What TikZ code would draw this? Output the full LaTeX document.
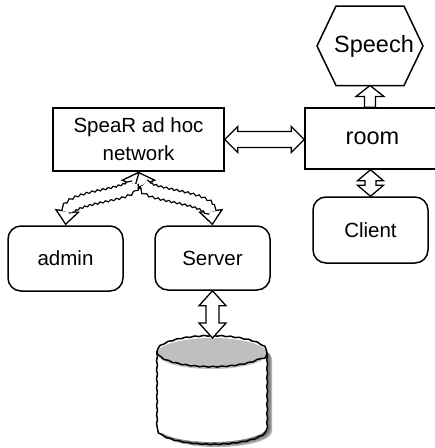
\documentclass[tikz,border=0pt]{standalone}
\usepackage{fontspec}
\setmainfont{Liberation Sans}
\usetikzlibrary{calc,arrows.meta,decorations.pathmorphing}

% vertical double-headed block arrow: #1 top tip, #2 bottom tip,
% #3 head half-width, #4 shaft half-width, #5 head length
\newcommand\vblockarrow[5]{%
  \draw[blockarrow] let \p1=(#1), \p2=(#2) in
    (\x1,\y1) -- (\x1+#3,\y1-#5) -- (\x1+#4,\y1-#5) -- (\x1+#4,\y2+#5)
    -- (\x1+#3,\y2+#5) -- (\x1,\y2) -- (\x1-#3,\y2+#5) -- (\x1-#4,\y2+#5)
    -- (\x1-#4,\y1-#5) -- (\x1-#3,\y1-#5) -- cycle;}
% single-headed upward block arrow: #1 tip, #2 tail
\newcommand\upblockarrow[5]{%
  \draw[blockarrow] let \p1=(#1), \p2=(#2) in
    (\x1,\y1) -- (\x1+#3,\y1-#5) -- (\x1+#4,\y1-#5) -- (\x1+#4,\y2)
    -- (\x1-#4,\y2) -- (\x1-#4,\y1-#5) -- (\x1-#3,\y1-#5) -- cycle;}
% horizontal double-headed block arrow: #1 left tip, #2 right tip
\newcommand\hblockarrow[5]{%
  \draw[blockarrow] let \p1=(#1), \p2=(#2) in
    (\x1,\y1) -- (\x1+#5,\y1+#3) -- (\x1+#5,\y1+#4) -- (\x2-#5,\y1+#4)
    -- (\x2-#5,\y1+#3) -- (\x2,\y1) -- (\x2-#5,\y1-#3) -- (\x2-#5,\y1-#4)
    -- (\x1+#5,\y1-#4) -- (\x1+#5,\y1-#3) -- cycle;}

\begin{document}
\begin{tikzpicture}[x=1pt,y=-1pt,
  every node/.style={font=\fontsize{20.5}{28}\selectfont},
  bigtext/.style={font=\fontsize{23.5}{28}\selectfont},
  box/.style={draw,line width=1.5pt,fill=white,inner sep=0pt},
  rbox/.style={box,rounded corners=13pt},
  blockarrow/.style={draw,line width=1.3pt,fill=white,line join=miter},
  openhead/.style={line width=1.3pt,
    -{Triangle[width=25pt,length=15pt,fill=white,line width=1.3pt]}},
  wavyshaft/.style={draw,line width=1.3pt,double=white,double distance=9pt,
    decorate,decoration={snake,amplitude=.9pt,segment length=5.5pt}},
  wobbly/.style={decorate,decoration={snake,amplitude=.45pt,segment length=9pt}},
  dbtopfill/.style={fill=black!25}
]
\useasboundingbox (0,0) rectangle (435,448);

% hexagon holding the speech component
\coordinate (hexc) at (370,46);
\draw[box] (hexc) +(-53,0) -- +(-34,-40) -- +(34,-40) -- +(53,0)
  -- +(34,39.5) -- +(-34,39.5) -- cycle;
\node[bigtext] (speech) at (374,46) {Speech};
\coordinate (speechbot) at (370,85.5);

% boxes
\node[box,minimum width=171pt,minimum height=63pt,align=center]
  (spear) at (138.5,139.5) {SpeaR ad hoc\\network};
\node[box,bigtext,minimum width=135pt,minimum height=61pt]
  (room) at (372.5,138.5) {room};
\node[rbox,minimum width=115pt,minimum height=66pt] (client) at (370.5,230) {Client};
\node[rbox,minimum width=115pt,minimum height=65pt] (admin) at (65.5,258.5) {admin};
\node[rbox,minimum width=115pt,minimum height=64pt] (server) at (212.5,258) {Server};

% database cylinder with its drop shadow
\def\cylbody{(157,353.5) -- (157,426.5)
  arc[start angle=180,end angle=360,x radius=55pt,y radius=15.5pt]
  -- (267,353.5)
  arc[start angle=0,end angle=180,x radius=55pt,y radius=15.5pt] -- cycle}
\fill[black!30] [shift={(5,5)}] \cylbody;
\fill[black!50] [shift={(3.5,3.5)}] \cylbody;
\fill[white] \cylbody;
\draw[line width=1.5pt,wobbly] \cylbody;
\fill[dbtopfill] (212,353.5) ellipse[x radius=55pt,y radius=15.5pt];
\draw[line width=1.5pt,wobbly] (212,353.5) ellipse[x radius=55pt,y radius=15.5pt];
\coordinate (dbtop) at (212.5,338);

% straight block arrows
\hblockarrow{spear.east}{room.west |- spear.east}{13pt}{8pt}{13pt}
\upblockarrow{speechbot}{speechbot |- room.north}{14pt}{5.5pt}{11pt}
\vblockarrow{client.north |- room.south}{client.north}{13pt}{5.5pt}{11pt}
\vblockarrow{server.south}{dbtop}{13.5pt}{6.5pt}{15pt}

% wavy links from the ad hoc network to admin and server
\coordinate (lc1) at (128,195);
\coordinate (lc2) at (69,195);
\coordinate (rc1) at (149,195);
\coordinate (rc2) at (209,195);
\draw[openhead] ($(spear.south)!15pt!(lc1)$) -- (spear.south);
\draw[openhead] ($(admin.north)!15pt!(lc2)$) -- (admin.north);
\draw[openhead] ($(spear.south)!15pt!(rc1)$) -- (spear.south);
\draw[openhead] ($(server.north)!15pt!(rc2)$) -- (server.north);
\draw[wavyshaft] ($(spear.south)!13.5pt!(lc1)$) .. controls (lc1) and (lc2)
  .. ($(admin.north)!13.5pt!(lc2)$);
\draw[wavyshaft] ($(spear.south)!13.5pt!(rc1)$) .. controls (rc1) and (rc2)
  .. ($(server.north)!13.5pt!(rc2)$);
\end{tikzpicture}
\end{document}
